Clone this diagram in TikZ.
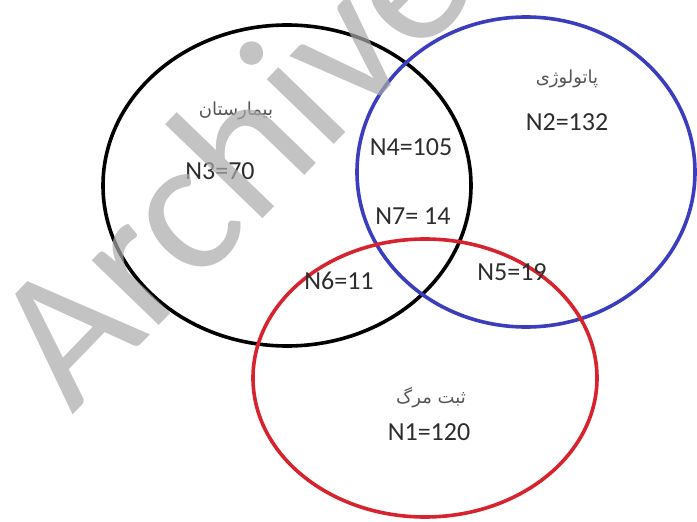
\documentclass[tikz,border=0pt]{standalone}
\usepackage{fontspec}
\setmainfont{Carlito}
\newfontfamily\arabicfont[Script=Arabic]{DejaVu Sans}
\newfontfamily\wmfont{Carlito}
\TeXXeTstate=1
\definecolor{vblue}{RGB}{58,62,190}
\definecolor{vred}{RGB}{215,35,45}
\definecolor{txt}{RGB}{45,45,45}
\definecolor{fatxt}{RGB}{85,85,85}
\definecolor{wmgray}{RGB}{170,170,170}
\begin{document}
\begin{tikzpicture}[x=1pt,y=-1pt,
  setline/.style={line width=3.6pt},
  num/.style={font=\fontsize{26}{28}\selectfont, text=txt, inner sep=0pt},
  fa/.style={font=\arabicfont\fontsize{18}{20}\selectfont, text=fatxt, inner sep=0pt},
  wm/.style={font=\wmfont\fontsize{195}{195}\selectfont, text=wmgray, opacity=0.7, inner sep=0pt}]
\useasboundingbox (0,0) rectangle (697,522);
\clip (0,0) rectangle (697,522);
\fill[white] (0,0) rectangle (697,522);
% sets
\draw[setline, black] (287,185.5) ellipse [x radius=184pt, y radius=160.5pt];
\draw[setline, vblue] (526,172) ellipse [x radius=169pt, y radius=155pt];
\draw[setline, vred] (425,378) ellipse [x radius=172pt, y radius=139pt];
% labels
\node[fa] (hosp) at (236,111) {\beginR بیمارستان\endR};
\node[num] (n3) at (220,171) {N3=70};
\node[fa] (path) at (567,79) {\beginR پاتولوژی\endR};
\node[num] (n2) at (567,122) {N2=132};
\node[num] (n4) at (411,147) {N4=105};
\node[num] (n7) at (413,216) {N7= 14};
\node[num] (n6) at (339,281) {N6=11};
\node[num] (n5) at (512,272) {N5=19};
\node[fa] (death) at (431,398) {\beginR ثبت مرگ\endR};
\node[num] (n1) at (429,432) {N1=120};
% watermark
\node[wm, rotate=46, anchor=base west] (mark) at (72,416) {Archive};
\end{tikzpicture}
\end{document}
